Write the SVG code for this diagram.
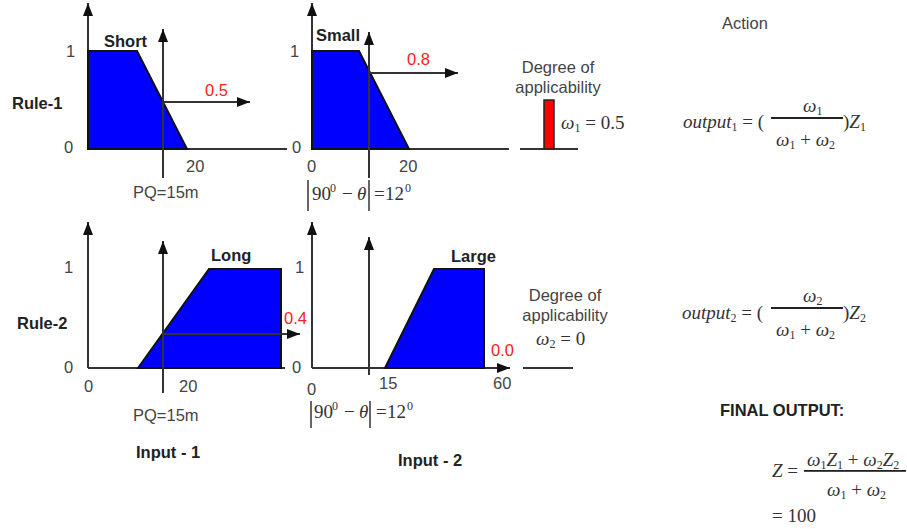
<svg xmlns="http://www.w3.org/2000/svg" width="907" height="529" viewBox="0 0 907 529">
<style>
.ax{stroke:#333;stroke-width:2;fill:none}
.fl{stroke:#333;stroke-width:1.5;fill:none}
.fr{fill:#222}
.mf{fill:#0000ff;stroke:#111;stroke-width:2;stroke-linejoin:miter}
.lb{font-family:"Liberation Sans",Arial,sans-serif;font-size:16.5px;fill:#444}
.bd{font-family:"Liberation Sans",Arial,sans-serif;font-size:16.5px;font-weight:bold;fill:#222}
.rd{font-family:"Liberation Sans",Arial,sans-serif;font-size:16.5px;fill:#ff2020}
.m{font-family:"Liberation Serif","Times New Roman",serif;font-size:19px;fill:#333}
.mi{font-family:"Liberation Serif","Times New Roman",serif;font-size:19px;font-style:italic;fill:#333}
.sb{font-size:12px}
</style>
<defs>
<marker id="ah" markerUnits="userSpaceOnUse" markerWidth="14" markerHeight="10" refX="13" refY="5" orient="auto">
<path d="M0,0 L13,5 L0,10 Z" fill="#111"/>
</marker>
</defs>

<g id="connectors">
<line class="ax" x1="88" y1="149" x2="88" y2="3" marker-end="url(#ah)"/>
<line class="ax" x1="88" y1="149" x2="287" y2="149"/>
<line class="ax" x1="312" y1="149" x2="312" y2="3" marker-end="url(#ah)"/>
<line class="ax" x1="312" y1="149" x2="509" y2="149"/>
<line class="ax" x1="520" y1="149" x2="578" y2="149"/>
<line class="ax" x1="88" y1="368" x2="88" y2="222" marker-end="url(#ah)"/>
<line class="ax" x1="88" y1="368" x2="285" y2="368"/>
<line class="ax" x1="312" y1="368" x2="312" y2="222" marker-end="url(#ah)"/>
<line class="ax" x1="312" y1="368" x2="510" y2="368" marker-end="url(#ah)"/>
<line class="ax" x1="523" y1="368" x2="573" y2="368"/>
</g>

<g id="rule1-input1">
<polygon class="mf" points="88,51 137,51 187,149 88,149"/>
<line class="ax" x1="163" y1="178" x2="163" y2="29" marker-end="url(#ah)"/>
<line class="ax" x1="163" y1="102" x2="250" y2="102" marker-end="url(#ah)"/>
<text class="bd" x="104" y="47">Short</text>
<text class="rd" x="205" y="96">0.5</text>
<text class="lb" x="66" y="57">1</text>
<text class="lb" x="64" y="153">0</text>
<text class="lb" x="186" y="172">20</text>
<text class="lb" x="133" y="198">PQ=15m</text>
<text class="bd" x="12" y="109">Rule-1</text>
</g>

<g id="rule1-input2">
<polygon class="mf" points="312,51 359,51 409,149 312,149"/>
<line class="ax" x1="369" y1="178" x2="369" y2="32" marker-end="url(#ah)"/>
<line class="ax" x1="369" y1="73" x2="458" y2="73" marker-end="url(#ah)"/>
<text class="bd" x="316" y="41">Small</text>
<text class="rd" x="407" y="65">0.8</text>
<text class="lb" x="290" y="57">1</text>
<text class="lb" x="292" y="153">0</text>
<text class="lb" x="307" y="172">0</text>
<text class="lb" x="399" y="172">20</text>
<line class="fl" x1="308" y1="180" x2="308" y2="211"/>
<line class="fl" x1="369" y1="180" x2="369" y2="211"/>
<text class="m" x="312" y="200">90</text>
<text class="m sb" x="330" y="192">0</text>
<text class="m" x="342" y="200">−</text>
<text class="mi" x="357" y="200">θ</text>
<text class="m" x="374" y="200">=</text>
<text class="m" x="385" y="200">12</text>
<text class="m sb" x="405" y="192">0</text>
</g>

<g id="degree1">
<text class="lb" x="558" y="73" text-anchor="middle">Degree of</text>
<text class="lb" x="558" y="93" text-anchor="middle">applicability</text>
<rect x="544" y="100" width="10" height="49" fill="#ff0000" stroke="#222" stroke-width="1.5"/>
<text class="mi" x="561" y="129">ω<tspan class="sb" font-style="normal" dy="3">1</tspan><tspan font-style="normal" dy="-3"> = 0.5</tspan></text>
</g>

<g id="rule2-input1">
<polygon class="mf" points="138,368 209,269 281,269 281,368"/>
<line class="ax" x1="163" y1="393" x2="163" y2="241" marker-end="url(#ah)"/>
<line class="ax" x1="163" y1="334" x2="300" y2="334" marker-end="url(#ah)"/>
<text class="bd" x="211" y="261">Long</text>
<text class="rd" x="284" y="324">0.4</text>
<text class="lb" x="64" y="273">1</text>
<text class="lb" x="64" y="373">0</text>
<text class="lb" x="84" y="392">0</text>
<text class="lb" x="179" y="392">20</text>
<text class="lb" x="133" y="421">PQ=15m</text>
<text class="bd" x="17" y="329">Rule-2</text>
<text class="bd" x="136" y="458">Input - 1</text>
</g>

<g id="rule2-input2">
<polygon class="mf" points="385,368 434,269 484,269 484,368"/>
<line class="ax" x1="369" y1="375" x2="369" y2="237" marker-end="url(#ah)"/>
<text class="bd" x="451" y="262">Large</text>
<text class="rd" x="491" y="356">0.0</text>
<text class="lb" x="295" y="273">1</text>
<text class="lb" x="292" y="373">0</text>
<text class="lb" x="307" y="395">0</text>
<text class="lb" x="379" y="389">15</text>
<text class="lb" x="493" y="389">60</text>
<line class="fl" x1="311" y1="401" x2="311" y2="428"/>
<line class="fl" x1="370" y1="401" x2="370" y2="428"/>
<text class="m" x="314" y="418">90</text>
<text class="m sb" x="332" y="410">0</text>
<text class="m" x="344" y="418">−</text>
<text class="mi" x="359" y="418">θ</text>
<text class="m" x="376" y="418">=</text>
<text class="m" x="387" y="418">12</text>
<text class="m sb" x="407" y="410">0</text>
<text class="bd" x="398" y="466">Input - 2</text>
</g>

<g id="degree2">
<text class="lb" x="565" y="301" text-anchor="middle">Degree of</text>
<text class="lb" x="565" y="321" text-anchor="middle">applicability</text>
<text class="mi" x="536" y="345">ω<tspan class="sb" font-style="normal" dy="3">2</tspan><tspan font-style="normal" dy="-3"> = 0</tspan></text>
</g>

<g id="action">
<text class="lb" x="722" y="29">Action</text>
</g>

<g id="output1">
<text class="mi" x="683" y="128" font-size="20">output<tspan class="sb" font-style="normal" dy="3">1</tspan><tspan font-style="normal" dy="-3"> = (</tspan></text>
<rect class="fr" x="771" y="117" width="72" height="2"/>
<text class="mi" x="803" y="112">ω<tspan class="sb" font-style="normal" dy="3">1</tspan></text>
<text class="mi" x="776" y="146">ω<tspan class="sb" font-style="normal" dy="3">1</tspan><tspan font-style="normal" dy="-3"> + </tspan>ω<tspan class="sb" font-style="normal" dy="3">2</tspan></text>
<text class="m" x="843" y="128" font-size="20">)<tspan font-style="italic">Z</tspan><tspan class="sb" dy="3">1</tspan></text>
</g>

<g id="output2">
<text class="mi" x="682" y="319" font-size="20">output<tspan class="sb" font-style="normal" dy="3">2</tspan><tspan font-style="normal" dy="-3"> = (</tspan></text>
<rect class="fr" x="771" y="307" width="72" height="2"/>
<text class="mi" x="803" y="302">ω<tspan class="sb" font-style="normal" dy="3">2</tspan></text>
<text class="mi" x="776" y="336">ω<tspan class="sb" font-style="normal" dy="3">1</tspan><tspan font-style="normal" dy="-3"> + </tspan>ω<tspan class="sb" font-style="normal" dy="3">2</tspan></text>
<text class="m" x="843" y="319" font-size="20">)<tspan font-style="italic">Z</tspan><tspan class="sb" dy="3">2</tspan></text>
</g>

<g id="final">
<text class="bd" x="720" y="416">FINAL OUTPUT:</text>
<text class="mi" x="772" y="477" font-size="20">Z<tspan font-style="normal"> =</tspan></text>
<rect class="fr" x="804" y="470" width="102" height="1.8"/>
<text class="mi" x="807" y="466" font-size="20">ω<tspan class="sb" font-style="normal" dy="3">1</tspan><tspan dy="-3">Z</tspan><tspan class="sb" font-style="normal" dy="3">1</tspan><tspan font-style="normal" dy="-3"> + </tspan>ω<tspan class="sb" font-style="normal" dy="3">2</tspan><tspan dy="-3">Z</tspan><tspan class="sb" font-style="normal" dy="3">2</tspan></text>
<text class="mi" x="827" y="496" font-size="20">ω<tspan class="sb" font-style="normal" dy="3">1</tspan><tspan font-style="normal" dy="-3"> + </tspan>ω<tspan class="sb" font-style="normal" dy="3">2</tspan></text>
<text class="m" x="772" y="522" font-size="20">= 100</text>
</g>
</svg>
